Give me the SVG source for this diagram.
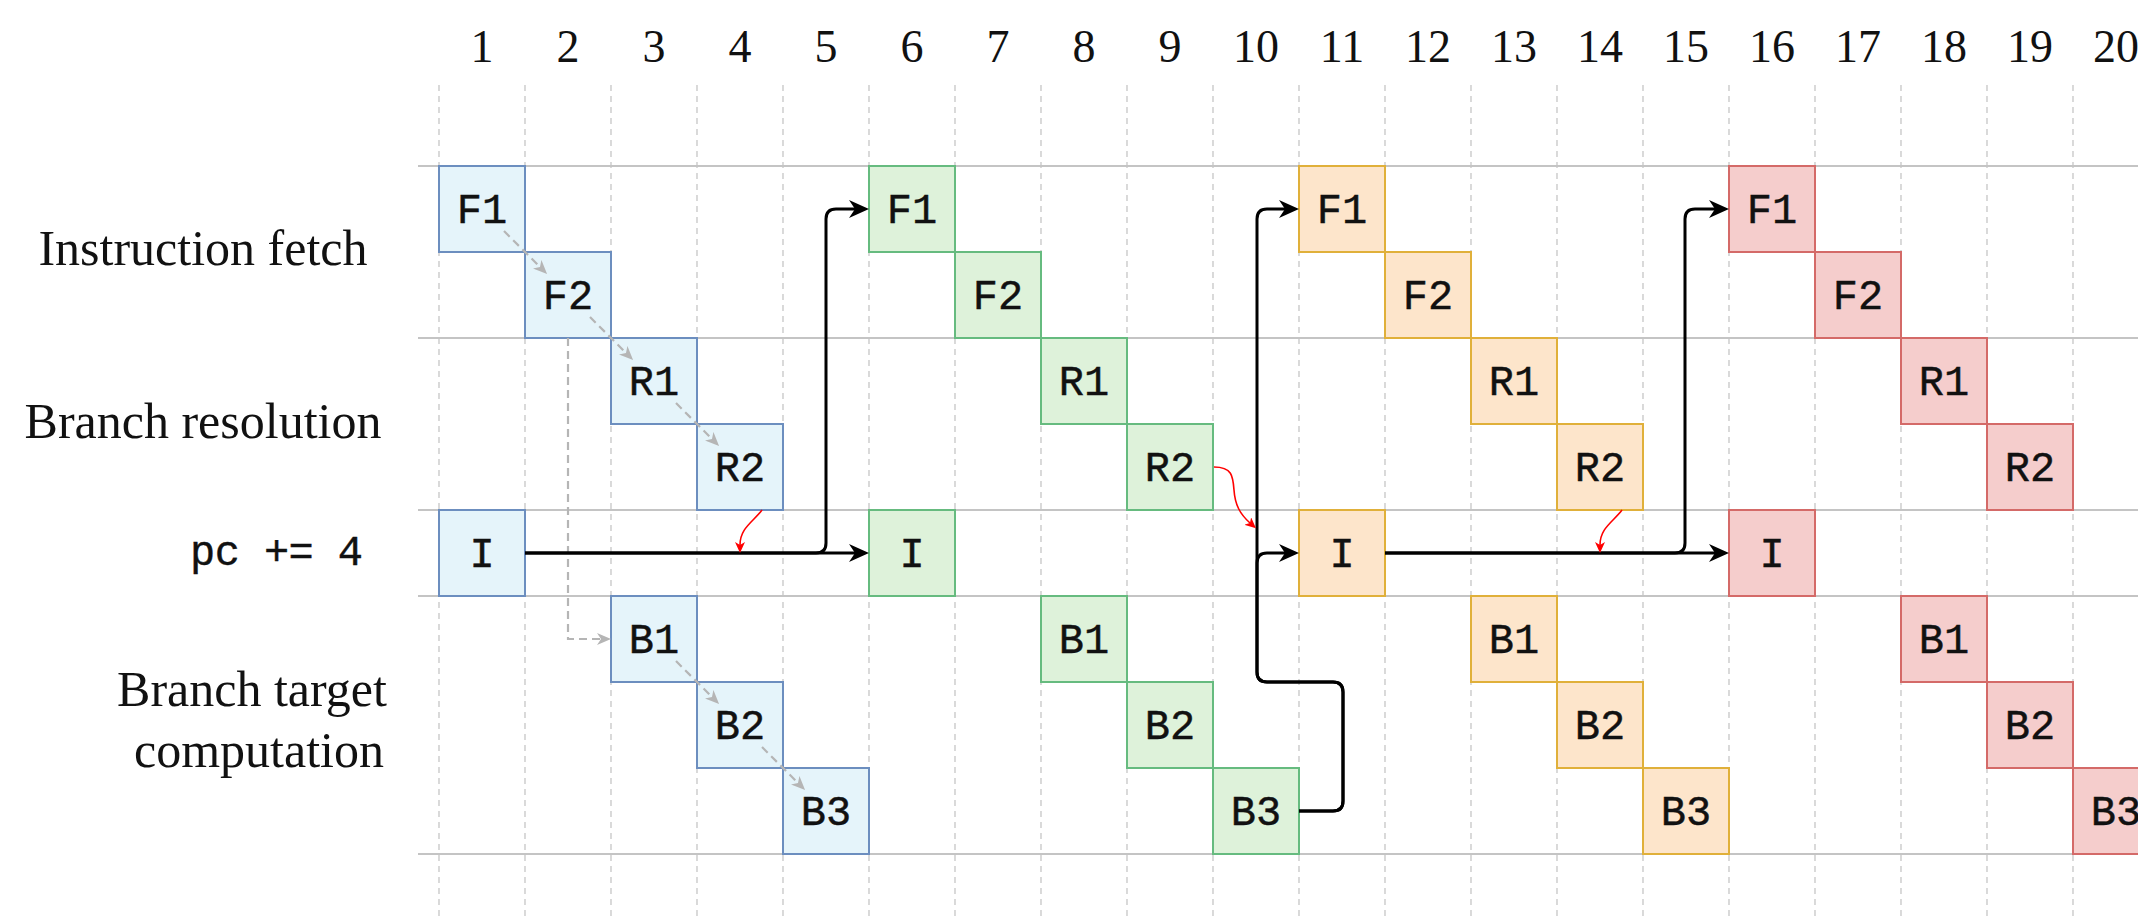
<svg xmlns="http://www.w3.org/2000/svg" width="2138" height="918" viewBox="0 0 2138 918">
  <style>
    .grid { stroke: #c6c6c6; stroke-width: 1.3; stroke-dasharray: 6 5; fill: none; }
    .lane { stroke: #c4c4c4; stroke-width: 2; fill: none; }
    .num { font-family: "Liberation Serif", "Times New Roman", serif; font-size: 46px; fill: #111; text-anchor: middle; }
    .row { font-family: "Liberation Serif", "Times New Roman", serif; font-size: 50px; fill: #111; text-anchor: middle; }
    .mono { font-family: "Liberation Mono", "Courier New", monospace; font-size: 42px; fill: #111; stroke: #111; stroke-width: 0.4; }
    .box rect { stroke-width: 2; }
    .box text { font-family: "Liberation Mono", "Courier New", monospace; font-size: 42px; fill: #111; stroke: #111; stroke-width: 0.45; text-anchor: middle; }
    .c1 rect { fill: #e5f4fa; stroke: #6c8ebf; }
    .c2 rect { fill: #def2da; stroke: #66bb7f; }
    .c3 rect { fill: #fde5cb; stroke: #e0b03a; }
    .c4 rect { fill: #f5cdcc; stroke: #d46a68; }
    .flow { stroke: #000; stroke-width: 3; fill: none; marker-end: url(#ahBlack); }
    .dep { stroke: #b5b5b5; stroke-width: 2.2; stroke-dasharray: 8 5; fill: none; marker-end: url(#ahGray); }
    .hint { stroke: #ff0000; stroke-width: 1.6; fill: none; marker-end: url(#ahRed); }
  </style>
  <defs>
    <marker id="ahBlack" markerUnits="userSpaceOnUse" markerWidth="20" markerHeight="20" viewBox="0 0 20 20" refX="6" refY="10" orient="auto">
      <path d="M0,1 L20,10 L0,19 L6,10 Z" fill="#000"/>
    </marker>
    <marker id="ahGray" markerUnits="userSpaceOnUse" markerWidth="14" markerHeight="12" viewBox="0 0 14 12" refX="4" refY="6" orient="auto">
      <path d="M0,0 L14,6 L0,12 L4,6 Z" fill="#b5b5b5"/>
    </marker>
    <marker id="ahRed" markerUnits="userSpaceOnUse" markerWidth="11" markerHeight="10" viewBox="0 0 11 10" refX="3" refY="5" orient="auto">
      <path d="M0,0 L11,5 L0,10 L3,5 Z" fill="#ff0000"/>
    </marker>
  </defs>

  <rect x="0" y="0" width="2138" height="918" fill="#ffffff"/>

  <!-- cycle numbers -->
  <g id="cycles">
    <text class="num" x="482" y="62">1</text>
    <text class="num" x="568" y="62">2</text>
    <text class="num" x="654" y="62">3</text>
    <text class="num" x="740" y="62">4</text>
    <text class="num" x="826" y="62">5</text>
    <text class="num" x="912" y="62">6</text>
    <text class="num" x="998" y="62">7</text>
    <text class="num" x="1084" y="62">8</text>
    <text class="num" x="1170" y="62">9</text>
    <text class="num" x="1256" y="62">10</text>
    <text class="num" x="1342" y="62">11</text>
    <text class="num" x="1428" y="62">12</text>
    <text class="num" x="1514" y="62">13</text>
    <text class="num" x="1600" y="62">14</text>
    <text class="num" x="1686" y="62">15</text>
    <text class="num" x="1772" y="62">16</text>
    <text class="num" x="1858" y="62">17</text>
    <text class="num" x="1944" y="62">18</text>
    <text class="num" x="2030" y="62">19</text>
    <text class="num" x="2116" y="62">20</text>
  </g>

  <!-- cycle boundaries -->
  <g id="grid">
    <line class="grid" x1="439" y1="85" x2="439" y2="918"/>
    <line class="grid" x1="525" y1="85" x2="525" y2="918"/>
    <line class="grid" x1="611" y1="85" x2="611" y2="918"/>
    <line class="grid" x1="697" y1="85" x2="697" y2="918"/>
    <line class="grid" x1="783" y1="85" x2="783" y2="918"/>
    <line class="grid" x1="869" y1="85" x2="869" y2="918"/>
    <line class="grid" x1="955" y1="85" x2="955" y2="918"/>
    <line class="grid" x1="1041" y1="85" x2="1041" y2="918"/>
    <line class="grid" x1="1127" y1="85" x2="1127" y2="918"/>
    <line class="grid" x1="1213" y1="85" x2="1213" y2="918"/>
    <line class="grid" x1="1299" y1="85" x2="1299" y2="918"/>
    <line class="grid" x1="1385" y1="85" x2="1385" y2="918"/>
    <line class="grid" x1="1471" y1="85" x2="1471" y2="918"/>
    <line class="grid" x1="1557" y1="85" x2="1557" y2="918"/>
    <line class="grid" x1="1643" y1="85" x2="1643" y2="918"/>
    <line class="grid" x1="1729" y1="85" x2="1729" y2="918"/>
    <line class="grid" x1="1815" y1="85" x2="1815" y2="918"/>
    <line class="grid" x1="1901" y1="85" x2="1901" y2="918"/>
    <line class="grid" x1="1987" y1="85" x2="1987" y2="918"/>
    <line class="grid" x1="2073" y1="85" x2="2073" y2="918"/>
  </g>

  <!-- lane separators -->
  <g id="lanes">
    <line class="lane" x1="418" y1="166" x2="2138" y2="166"/>
    <line class="lane" x1="418" y1="338" x2="2138" y2="338"/>
    <line class="lane" x1="418" y1="510" x2="2138" y2="510"/>
    <line class="lane" x1="418" y1="596" x2="2138" y2="596"/>
    <line class="lane" x1="418" y1="854" x2="2138" y2="854"/>
  </g>

  <!-- lane titles -->
  <g id="lane-titles">
    <text class="row" x="203" y="265">Instruction fetch</text>
    <text class="row" x="203" y="438">Branch resolution</text>
    <text class="mono" x="190" y="565" textLength="173" lengthAdjust="spacing">pc += 4</text>
    <text class="row" x="252" y="706">Branch target</text>
    <text class="row" x="259" y="767">computation</text>
  </g>

  <!-- instruction 1 -->
  <g id="i1-F1" class="box c1"><rect x="439" y="166" width="86" height="86"/><text x="482" y="223">F1</text></g>
  <g id="i1-F2" class="box c1"><rect x="525" y="252" width="86" height="86"/><text x="568" y="309">F2</text></g>
  <g id="i1-R1" class="box c1"><rect x="611" y="338" width="86" height="86"/><text x="654" y="395">R1</text></g>
  <g id="i1-R2" class="box c1"><rect x="697" y="424" width="86" height="86"/><text x="740" y="481">R2</text></g>
  <g id="i1-I" class="box c1"><rect x="439" y="510" width="86" height="86"/><text x="482" y="567">I</text></g>
  <g id="i1-B1" class="box c1"><rect x="611" y="596" width="86" height="86"/><text x="654" y="653">B1</text></g>
  <g id="i1-B2" class="box c1"><rect x="697" y="682" width="86" height="86"/><text x="740" y="739">B2</text></g>
  <g id="i1-B3" class="box c1"><rect x="783" y="768" width="86" height="86"/><text x="826" y="825">B3</text></g>

  <!-- instruction 2 -->
  <g id="i2-F1" class="box c2"><rect x="869" y="166" width="86" height="86"/><text x="912" y="223">F1</text></g>
  <g id="i2-F2" class="box c2"><rect x="955" y="252" width="86" height="86"/><text x="998" y="309">F2</text></g>
  <g id="i2-R1" class="box c2"><rect x="1041" y="338" width="86" height="86"/><text x="1084" y="395">R1</text></g>
  <g id="i2-R2" class="box c2"><rect x="1127" y="424" width="86" height="86"/><text x="1170" y="481">R2</text></g>
  <g id="i2-I" class="box c2"><rect x="869" y="510" width="86" height="86"/><text x="912" y="567">I</text></g>
  <g id="i2-B1" class="box c2"><rect x="1041" y="596" width="86" height="86"/><text x="1084" y="653">B1</text></g>
  <g id="i2-B2" class="box c2"><rect x="1127" y="682" width="86" height="86"/><text x="1170" y="739">B2</text></g>
  <g id="i2-B3" class="box c2"><rect x="1213" y="768" width="86" height="86"/><text x="1256" y="825">B3</text></g>

  <!-- instruction 3 -->
  <g id="i3-F1" class="box c3"><rect x="1299" y="166" width="86" height="86"/><text x="1342" y="223">F1</text></g>
  <g id="i3-F2" class="box c3"><rect x="1385" y="252" width="86" height="86"/><text x="1428" y="309">F2</text></g>
  <g id="i3-R1" class="box c3"><rect x="1471" y="338" width="86" height="86"/><text x="1514" y="395">R1</text></g>
  <g id="i3-R2" class="box c3"><rect x="1557" y="424" width="86" height="86"/><text x="1600" y="481">R2</text></g>
  <g id="i3-I" class="box c3"><rect x="1299" y="510" width="86" height="86"/><text x="1342" y="567">I</text></g>
  <g id="i3-B1" class="box c3"><rect x="1471" y="596" width="86" height="86"/><text x="1514" y="653">B1</text></g>
  <g id="i3-B2" class="box c3"><rect x="1557" y="682" width="86" height="86"/><text x="1600" y="739">B2</text></g>
  <g id="i3-B3" class="box c3"><rect x="1643" y="768" width="86" height="86"/><text x="1686" y="825">B3</text></g>

  <!-- instruction 4 -->
  <g id="i4-F1" class="box c4"><rect x="1729" y="166" width="86" height="86"/><text x="1772" y="223">F1</text></g>
  <g id="i4-F2" class="box c4"><rect x="1815" y="252" width="86" height="86"/><text x="1858" y="309">F2</text></g>
  <g id="i4-R1" class="box c4"><rect x="1901" y="338" width="86" height="86"/><text x="1944" y="395">R1</text></g>
  <g id="i4-R2" class="box c4"><rect x="1987" y="424" width="86" height="86"/><text x="2030" y="481">R2</text></g>
  <g id="i4-I" class="box c4"><rect x="1729" y="510" width="86" height="86"/><text x="1772" y="567">I</text></g>
  <g id="i4-B1" class="box c4"><rect x="1901" y="596" width="86" height="86"/><text x="1944" y="653">B1</text></g>
  <g id="i4-B2" class="box c4"><rect x="1987" y="682" width="86" height="86"/><text x="2030" y="739">B2</text></g>
  <g id="i4-B3" class="box c4"><rect x="2073" y="768" width="86" height="86"/><text x="2116" y="825">B3</text></g>

  <!-- connectors -->
  <g id="connectors">
    <!-- stage dependencies within the first instruction -->
    <path class="dep" d="M504,231 L540,267"/>
    <path class="dep" d="M590,317 L626,353"/>
    <path class="dep" d="M676,403 L712,439"/>
    <path class="dep" d="M676,661 L712,697"/>
    <path class="dep" d="M762,747 L798,783"/>
    <path class="dep" d="M568,338 V639 H601"/>

    <!-- next pc selection -->
    <path class="flow" d="M525,553 H855"/>
    <path class="flow" d="M525,553 H816 Q826,553 826,543 V219 Q826,209 836,209 H855"/>
    <path class="flow" d="M1299,811 H1333 Q1343,811 1343,801 V692 Q1343,682 1333,682 H1267 Q1257,682 1257,672 V219 Q1257,209 1267,209 H1285"/>
    <path class="flow" d="M1299,811 H1333 Q1343,811 1343,801 V692 Q1343,682 1333,682 H1267 Q1257,682 1257,672 V563 Q1257,553 1267,553 H1285"/>
    <path class="flow" d="M1385,553 H1715"/>
    <path class="flow" d="M1385,553 H1675 Q1685,553 1685,543 V219 Q1685,209 1695,209 H1715"/>

    <!-- branch outcome -->
    <path class="hint" d="M762,510 C753,522 740,528 740,545"/>
    <path class="hint" d="M1214,467 C1232,467 1233,476 1234,490 C1235,505 1240,514 1250,523"/>
    <path class="hint" d="M1622,510 C1613,522 1600,528 1600,545"/>
  </g>
</svg>
